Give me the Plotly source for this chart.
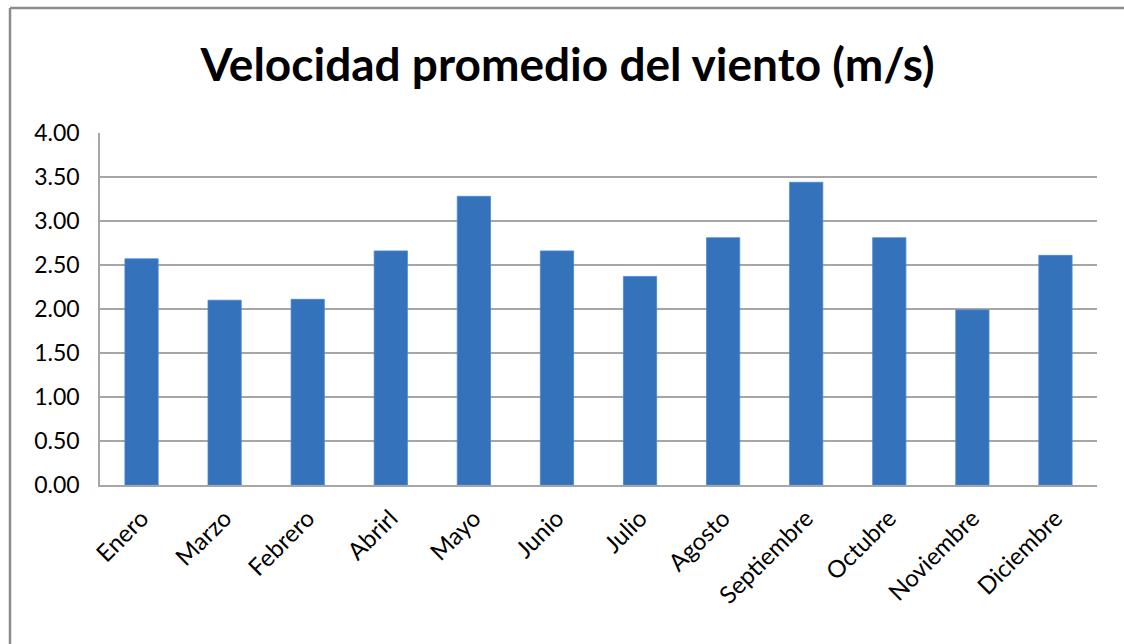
import plotly.graph_objects as go

months = ["Enero", "Marzo", "Febrero", "Abrirl", "Mayo", "Junio", "Julio",
          "Agosto", "Septiembre", "Octubre", "Noviembre", "Diciembre"]
speeds = [2.57, 2.10, 2.11, 2.66, 3.28, 2.66, 2.37, 2.81, 3.44, 2.81, 1.99, 2.61]
y_ticks = [0, 0.5, 1.0, 1.5, 2.0, 2.5, 3.0, 3.5, 4.0]
y_tick_labels = [f"{v:.2f}" for v in y_ticks]
title_text = "Velocidad promedio del viento (m/s)"

L, R, T, B = 100, 27, 133, 159
W, H = 1124, 644
pw, ph = W - L - R, H - T - B

fig = go.Figure()
fig.add_trace(go.Bar(
    x=months, y=speeds,
    marker=dict(color="#3572BC", line=dict(color="#4A86D0", width=0.8)),
    width=0.4,
))

# outer chart frame: only top and left edges visible
frame_x0 = (10 - L) / pw
frame_top = 1 + (T - 8) / ph
frame_bottom = -(H + 50 - (H - B)) / ph
frame_right = (W + 50 - L) / pw
fig.add_shape(type="line", xref="paper", yref="paper",
              x0=frame_x0, x1=frame_right, y0=frame_top, y1=frame_top,
              line=dict(color="#8C8C8C", width=2.5), layer="below")
fig.add_shape(type="line", xref="paper", yref="paper",
              x0=frame_x0, x1=frame_x0, y0=frame_bottom, y1=frame_top,
              line=dict(color="#8C8C8C", width=2.5), layer="below")

fig.update_layout(
    width=W, height=H,
    margin=dict(l=L, r=R, t=T, b=B),
    paper_bgcolor="white", plot_bgcolor="white",
    showlegend=False,
    title=dict(text=f"<b>{title_text}</b>", x=0.505, xanchor="center",
               y=1 - 65 / H, yanchor="middle",
               font=dict(family="Lato", size=46, color="black")),
    font=dict(family="Lato", color="black"),
    bargap=0.6,
)
fig.update_yaxes(
    range=[0, 4.0], tickvals=y_ticks, ticktext=y_tick_labels,
    showgrid=True, gridcolor="#A6A6A6", gridwidth=1.5,
    showline=True, linecolor="#A6A6A6", linewidth=1.5,
    ticks="", ticklabelstandoff=14,
    tickfont=dict(family="Lato", size=23, color="black"),
    zeroline=False,
)
fig.update_xaxes(
    showline=True, linecolor="#A6A6A6", linewidth=1.5,
    tickangle=-45, ticks="", ticklabelstandoff=8,
    tickfont=dict(family="Lato", size=24, color="black"),
)

fig.write_html(
    "out.html", config={"displayModeBar": False},
    post_script=("document.body.style.margin='0';"
                 "document.body.style.overflow='hidden';"
                 "document.documentElement.style.overflow='hidden';"),
)
